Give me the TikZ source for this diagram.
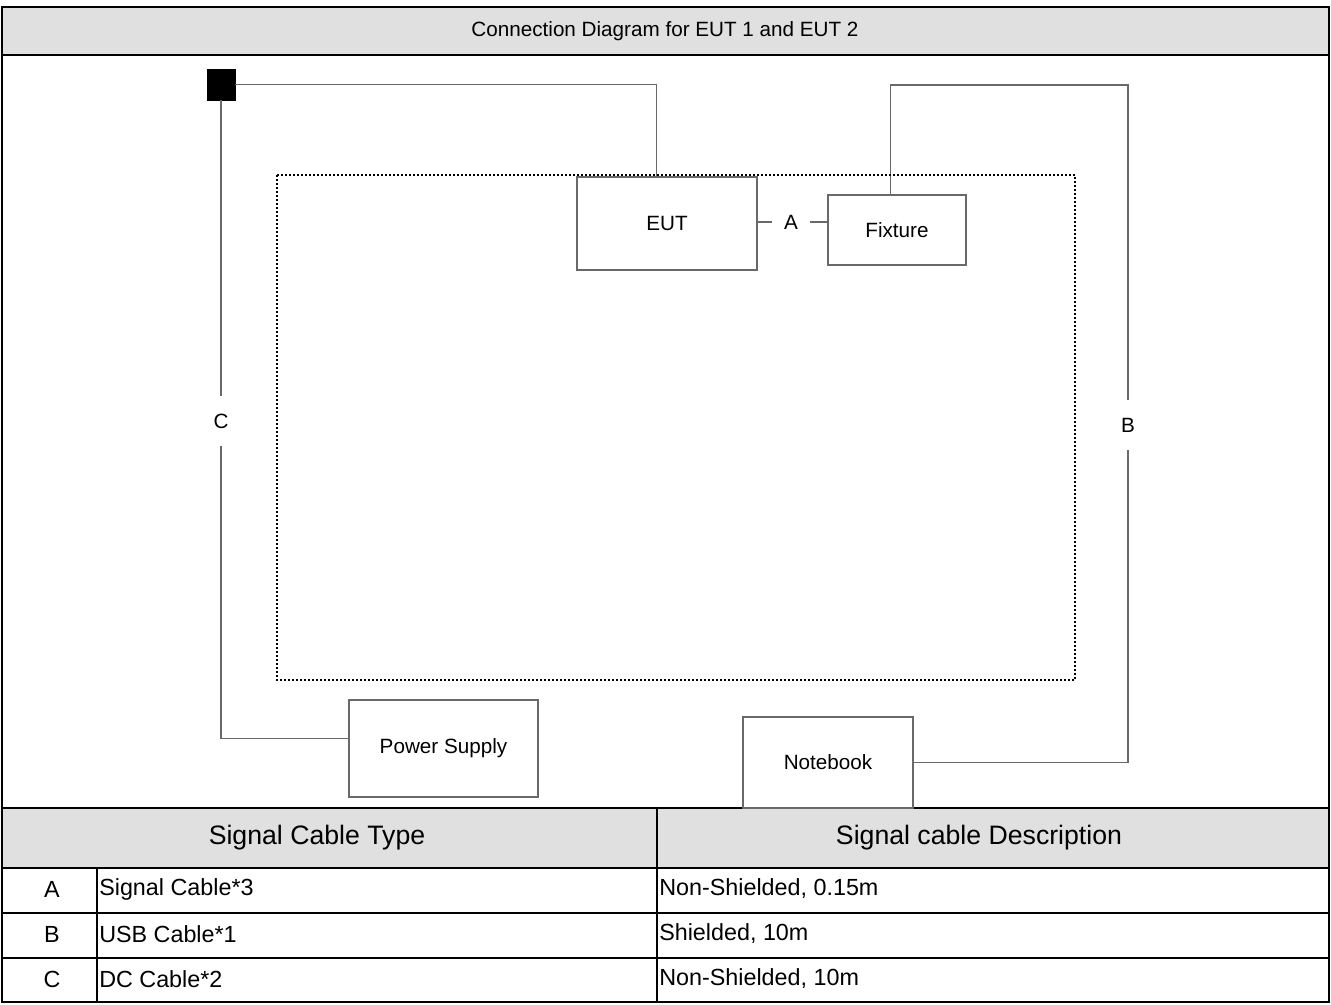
\documentclass[tikz,border=0pt]{standalone}
\usepackage{fontspec}
\setmainfont{Liberation Sans}
\usetikzlibrary{calc}
\definecolor{hdr_gray}{RGB}{224, 224, 224}
\definecolor{wire_gray}{RGB}{105, 105, 105}
\tikzstyle{box}=[rectangle,draw=wire_gray,line width=0.8pt,inner sep=0pt]
\tikzstyle{plug}=[rectangle,fill=black,draw=black,inner sep=0pt,
  minimum width=21pt,minimum height=23.25pt]
\tikzstyle{wire}=[draw=wire_gray,line width=0.8pt]
\tikzstyle{lab}=[inner xsep=9pt,inner ysep=13pt]
\tikzstyle{head}=[font=\fontsize{20}{24}\selectfont]
\tikzstyle{cell}=[inner xsep=1.5pt,inner ysep=0pt,font=\fontsize{17.5}{21}\selectfont]
\tikzstyle{grid}=[draw=black,line width=1.5pt]
\tikzstyle{dots}=[draw=black,line width=1.5pt,dash pattern=on 1.5pt off 1.5pt]

\begin{document}
\begin{tikzpicture}[x=0.75pt,y=-0.75pt,font=\fontsize{15.5}{18}\selectfont]
        \useasboundingbox (0,0) rectangle (1331,1004);
        % table frame
        \fill[hdr_gray] (2,7) rectangle (1329,55);
        \fill[hdr_gray] (2,808) rectangle (1329,868);
        \draw[style=grid] (2,7) rectangle (1329,1002);
        \draw[style=grid] (2,55) -- (1329,55);
        \draw[style=grid] (2,808) -- (1329,808);
        \draw[style=grid] (2,868) -- (1329,868);
        \draw[style=grid] (2,913) -- (1329,913);
        \draw[style=grid] (2,958) -- (1329,958);
        \draw[style=grid] (657,808) -- (657,1002);
        \draw[style=grid] (97,868) -- (97,1002);
        \node (title) at (665,31) {Connection Diagram for EUT 1 and EUT 2};
        \node[style=head] (h1) at (317,838) {Signal Cable Type};
        \node[style=head] (h2) at (979,838) {Signal cable Description};
        \node[style=cell] (ra) at (52,889) {A};
        \node[style=cell] (rb) at (52,934) {B};
        \node[style=cell] (rc) at (52,979) {C};
        \node[style=cell,anchor=west] (ta) at (97,889) {Signal Cable*3};
        \node[style=cell,anchor=west] (tb) at (97,934) {USB Cable*1};
        \node[style=cell,anchor=west] (tc) at (97,979) {DC Cable*2};
        \node[style=cell,anchor=west] (da) at (657,889) {Non-Shielded, 0.15m};
        \node[style=cell,anchor=west] (db) at (657,934) {Shielded, 10m};
        \node[style=cell,anchor=west] (dc) at (657,979) {Non-Shielded, 10m};
        % setup
        \node[style=plug] (pl) at (221,84.5) {};
        \node[style=box,minimum width=135pt,minimum height=69.75pt] (eut) at (667,223.5) {EUT};
        \node[style=box,minimum width=103.5pt,minimum height=52.5pt] (fx) at (897,230) {Fixture};
        \node[style=box,minimum width=141.75pt,minimum height=72.75pt] (ps) at (443.5,748.5) {Power Supply};
        \node[style=box,minimum width=127.5pt,minimum height=68.25pt] (nb) at (828,762.5) {Notebook};
        \node[style=lab] (la) at (791,222) {A};
        \node[style=lab] (lb) at (1128,425) {B};
        \node[style=lab] (lc) at (221,421) {C};
        \coordinate (cb) at (1128,85);
        \draw[style=wire] (pl.east) -| ([xshift=-8pt]eut.north);
        \draw[style=wire] (pl) -- (lc);
        \draw[style=wire] (lc) |- ([yshift=7.5pt]ps.west);
        \draw[style=wire] (eut.east |- la) -- (la);
        \draw[style=wire] (la) -- (la -| fx.west);
        \draw[style=wire] ([xshift=-5pt]fx.north) |- (cb) -- (lb);
        \draw[style=wire] (lb) |- (nb.east);
        \draw[style=dots] (277,175) rectangle (1075,680);
    \end{tikzpicture}
\end{document}
